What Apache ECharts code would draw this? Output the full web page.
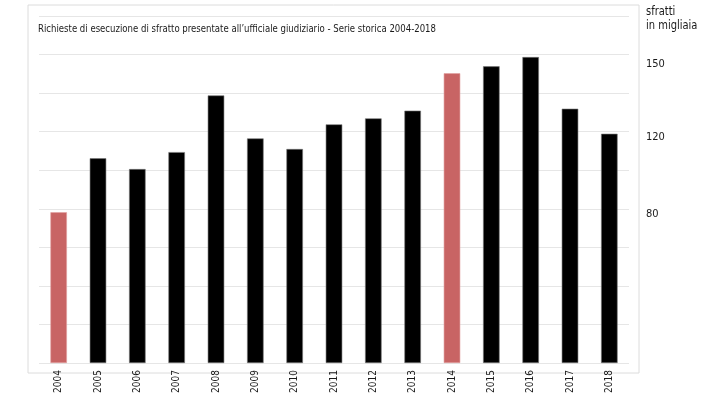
<!DOCTYPE html>
<html>
<head>
<meta charset="utf-8">
<script src="https://cdn.jsdelivr.net/npm/echarts@6/dist/echarts.min.js"></script>
<style>
  html, body { margin: 0; padding: 0; background: #fff; }
  #chart { width: 712px; height: 394px; }
</style>
</head>
<body>
<div id="chart"></div>
<script>
// anni e richieste (migliaia)
var years = ['2004','2005','2006','2007','2008','2009','2010','2011','2012','2013','2014','2015','2016','2017','2018']
var richieste = [78.2, 106.2, 100.6, 109.4, 138.8, 116.5, 111.0, 123.8, 126.9, 130.9, 150.3, 153.9, 158.7, 131.9, 118.9]
var highlightYears = ['2004', '2014']
var tickLabels = [80, 120, 150]

var titolo = 'Richieste di esecuzione di sfratto presentate all\u2019ufficiale giudiziario - Serie storica 2004-2018'
var unita = 'sfratti\nin migliaia'

var FAMILY = '"DejaVu Sans", sans-serif'
var STRETCH = 'condensed' // va nel posto del fontWeight, finisce nel font shorthand del canvas

// larghezza naturale del titolo, per stringerlo come nell'originale
function textWidth(str, size) {
  var ctx = document.createElement('canvas').getContext('2d')
  ctx.font = 'normal ' + STRETCH + ' ' + size + 'px ' + FAMILY
  return ctx.measureText(str).width
}
var titleScale = 398 / textWidth(titolo, 11)

var chart = echarts.init(document.getElementById('chart'))

chart.setOption({
  backgroundColor: '#fff',
  animation: false,
  graphic: [{
    type: 'rect',
    shape: { x: 28, y: 5, width: 611, height: 368 },
    style: { fill: 'none', stroke: '#dcdcdc', lineWidth: 1 },
    z: -1
  }, {
    type: 'text',
    x: 38,
    y: 29.5,
    scaleX: titleScale,
    style: {
      text: titolo,
      fontFamily: FAMILY, fontWeight: STRETCH, fontSize: 11,
      fill: '#1a1a1a', verticalAlign: 'middle'
    }
  }, {
    type: 'text',
    x: 646,
    y: 5,
    scaleX: 0.92,
    style: {
      text: unita,
      fontFamily: FAMILY, fontWeight: STRETCH, fontSize: 12, lineHeight: 14,
      fill: '#1a1a1a'
    }
  }],
  grid: { left: 39, right: 83, top: 16, bottom: 31, outerBoundsMode: 'none' },
  xAxis: {
    type: 'category',
    data: years,
    axisLine: { show: false },
    axisTick: { show: false },
    axisLabel: { rotate: 90, margin: 7, fontFamily: FAMILY, fontWeight: STRETCH, fontSize: 10, color: '#1a1a1a' }
  },
  yAxis: [{
    type: 'value',
    min: 0,
    max: 180,
    interval: 20,
    axisLabel: { show: false },
    axisLine: { show: false },
    axisTick: { show: false },
    splitLine: { lineStyle: { color: '#e6e6e6', width: 1 } }
  }, {
    type: 'value',
    position: 'right',
    min: 0,
    max: 180,
    axisLine: { show: false },
    axisTick: { show: false },
    splitLine: { show: false },
    axisLabel: {
      customValues: tickLabels,
      margin: 17,
      verticalAlign: 'middle',
      // nell'originale le etichette non stanno proprio sul valore: 80/120 un po' sotto, 150 più in alto
      formatter: function (v) {
        return v === 150 ? '{n|' + v + '}\n{up| }' : '{dn| }\n{n|' + v + '}'
      },
      rich: {
        n: { fontFamily: FAMILY, fontWeight: STRETCH, fontSize: 11, lineHeight: 13, color: '#1a1a1a' },
        up: { fontSize: 1, lineHeight: 20 },
        dn: { fontSize: 1, lineHeight: 10 }
      }
    }
  }],
  series: [{
    type: 'bar',
    barWidth: '42%',
    data: richieste.map(function (v, i) {
      var hot = highlightYears.indexOf(years[i]) >= 0
      return {
        value: v,
        itemStyle: { color: hot ? '#c86464' : '#000', borderColor: hot ? '#e0a0a0' : '#777', borderWidth: 0.6 }
      }
    })
  }]
})
</script>
</body>
</html>
